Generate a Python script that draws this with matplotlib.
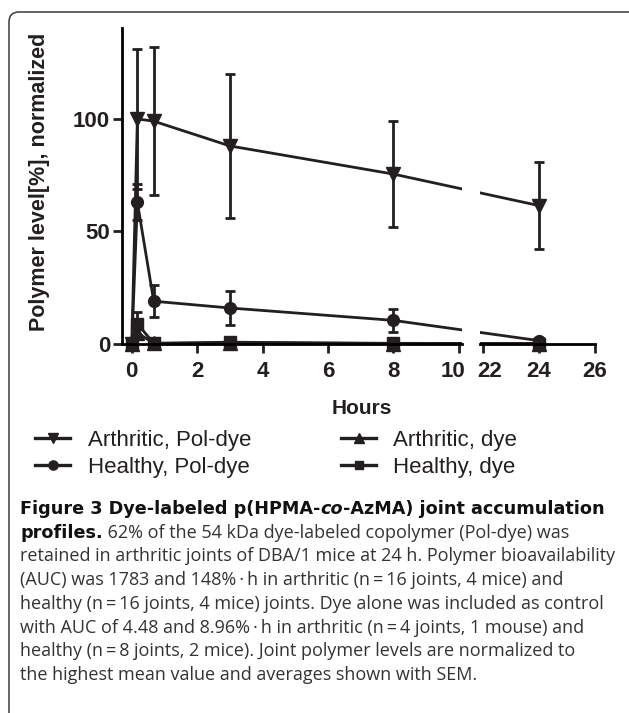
import matplotlib.pyplot as plt
from matplotlib.lines import Line2D
from matplotlib.patches import FancyBboxPatch
from matplotlib.transforms import ScaledTranslation

# time points (h) and normalised polymer levels (% of highest mean) with SEM
hours = [0, 0.17, 0.67, 3, 8, 24]
arth_pol = [0, 100, 99, 88, 75.5, 61.5]
arth_pol_sem = [0, 31, 33, 32, 23.5, 19.5]
healthy_pol = [0, 63, 19, 16, 10.5, 1.5]
healthy_pol_sem = [0, 8, 7, 7.5, 5, 1]
arth_dye = [0, 5, 0.3, 0.5, 0.2, 0.2]
arth_dye_sem = [0, 3, 0.2, 0.3, 0.2, 0.2]
healthy_dye = [0, 9, 0.3, 0.8, 0.3, 0.2]
healthy_dye_sem = [0, 5, 0.3, 0.5, 0.2, 0.2]

labels = ['Arthritic, Pol-dye', 'Healthy, Pol-dye', 'Arthritic, dye', 'Healthy, dye']
markers = ['v', 'o', '^', 's']
left_ticks = [0, 2, 4, 6, 8, 10]
right_ticks = [22, 24, 26]
y_ticks = [0, 50, 100]

W, H = 629, 713
ink = '#231f20'
axis_font = 'Liberation Sans'
reg_font = ['Open Sans', 'DejaVu Sans']
bold_font = ['DejaVu Sans']


def fx(px):
    return px / W


def fy(py):
    return 1 - py / H


fig = plt.figure(figsize=(W / 100, H / 100), dpi=100)
renderer = fig.canvas.get_renderer()

# rounded frame around the whole figure (runs off right and bottom)
frame = FancyBboxPatch((0.09, -0.5), 10, 7.01 + 0.5,
                       boxstyle='round,pad=0,rounding_size=0.1',
                       transform=fig.dpi_scale_trans, fill=False,
                       ec='#3a3a3a', lw=1.1)
fig.add_artist(frame)

ax1 = fig.add_axes([fx(122), fy(362), (462 - 122) / W, (362 - 28) / H])
ax2 = fig.add_axes([fx(480), fy(362), (595 - 480) / W, (362 - 28) / H], sharey=ax1)
ax1.set_xlim(-0.3, 10.1)
ax2.set_xlim(21.9, 26)


def to_other(x, src, dst):
    # same screen position, expressed in the other panel's data units
    disp = src.transData.transform((x, 0))
    return dst.transData.inverted().transform(disp)[0]


# each panel gets every point; ones from the other panel are placed where the
# continuous line would run, so the connecting segment is cut at the break
xs1 = [h if h <= 10.1 else to_other(h, ax2, ax1) for h in hours]
xs2 = [h if h >= 21.9 else to_other(h, ax1, ax2) for h in hours]

series = [(arth_pol, arth_pol_sem), (healthy_pol, healthy_pol_sem),
          (arth_dye, arth_dye_sem), (healthy_dye, healthy_dye_sem)]
ms = [9.5, 8.5, 9.5, 8]

for ax, xs in ((ax1, xs1), (ax2, xs2)):
    for (vals, sem), m, s in zip(series, markers, ms):
        ax.errorbar(xs, vals, yerr=sem, color=ink, marker=m, ms=s,
                    lw=2.0, elinewidth=2.0, capsize=3.6, capthick=2.0)
    ax.set_ylim(-8, 140.4)
    ax.spines['top'].set_visible(False)
    ax.spines['right'].set_visible(False)
    ax.spines['bottom'].set_position(('data', 0))
    ax.spines['bottom'].set_linewidth(2.0)
    ax.spines['left'].set_linewidth(2.0)
    ax.tick_params(width=2.0, length=6.5, color=ink, labelcolor=ink,
                   labelsize=16)
    ax.tick_params(axis='x', pad=6)
    ax.tick_params(axis='y', pad=2)
    ax.patch.set_visible(False)

ax1.set_xticks(left_ticks)
ax1.set_yticks(y_ticks)
ax1.spines['left'].set_bounds(0, 140.4)
ax2.set_xticks(right_ticks)
ax2.spines['left'].set_visible(False)
ax2.tick_params(axis='y', left=False, labelleft=False)

for ax in (ax1, ax2):
    for t in ax.get_xticklabels() + ax.get_yticklabels():
        t.set_fontweight('bold')
        t.set_family(axis_font)

# pull "10" and "22" apart at the break
lab10 = ax1.get_xticklabels()[-1]
lab10.set_transform(lab10.get_transform() + ScaledTranslation(-6 / 100, 0, fig.dpi_scale_trans))
lab22 = ax2.get_xticklabels()[0]
lab22.set_transform(lab22.get_transform() + ScaledTranslation(7 / 100, 0, fig.dpi_scale_trans))

fig.text(fx(40), fy(182), 'Polymer level[%], normalized', rotation=90,
         ha='center', va='center', fontsize=15.5, fontweight='bold',
         family=axis_font, color=ink)
fig.text(fx(362), fy(409), 'Hours', ha='center', va='center', fontsize=15,
         fontweight='bold', family=axis_font, color=ink)

# legend, two columns
leg_cols = [(35, 88), (341, 393)]
leg_rows = [438, 465]
for i, (lab, m, s) in enumerate(zip(labels, markers, ms)):
    (hx, tx), yc = leg_cols[i // 2], leg_rows[i % 2]
    fig.add_artist(Line2D([fx(hx), fx(hx + 35)], [fy(yc), fy(yc)], color=ink,
                          lw=2.4, transform=fig.transFigure))
    fig.add_artist(Line2D([fx(hx + 17.5)], [fy(yc)], color=ink, marker=m,
                          ms=s * 0.78, lw=0, transform=fig.transFigure))
    fig.text(fx(tx), fy(yc + 8), lab, fontsize=16, family=axis_font,
             color=ink, va='baseline')

# caption, drawn run by run so bold / italic pieces sit on one line
caption = [
    [('Figure 3 Dye-labeled p(HPMA-', 'bold', 'normal'), ('co', 'bold', 'italic'),
     ('-AzMA) joint accumulation', 'bold', 'normal')],
    [('profiles.', 'bold', 'normal'),
     (' 62% of the 54 kDa dye-labeled copolymer (Pol-dye) was', 'normal', 'normal')],
    [('retained in arthritic joints of DBA/1 mice at 24 h. Polymer bioavailability', 'normal', 'normal')],
    [('(AUC) was 1783 and 148%\u2009\u00b7\u2009h in arthritic (n\u2009=\u200916 joints, 4 mice) and', 'normal', 'normal')],
    [('healthy (n\u2009=\u200916 joints, 4 mice) joints. Dye alone was included as control', 'normal', 'normal')],
    [('with AUC of 4.48 and 8.96%\u2009\u00b7\u2009h in arthritic (n\u2009=\u20094 joints, 1 mouse) and', 'normal', 'normal')],
    [('healthy (n\u2009=\u20098 joints, 2 mice). Joint polymer levels are normalized to', 'normal', 'normal')],
    [('the highest mean value and averages shown with SEM.', 'normal', 'normal')],
]


def run_width(s, weight, style, size):
    fam = bold_font if weight == 'bold' else reg_font
    t = fig.text(0, 0, s, fontsize=size, fontweight=weight, fontstyle=style,
                 family=fam)
    w = t.get_window_extent(renderer).width
    t.remove()
    return w


# font sizes chosen so the widest lines fill the box like the reference
reg_size = 12 * 594 / run_width(caption[2][0][0], 'normal', 'normal', 12)
bold_size = 12 * 580 / sum(run_width(s, w, st, 12) for s, w, st in caption[0])

baseline = 514
for line in caption:
    x = fx(20)
    for s, weight, style in line:
        bold = weight == 'bold'
        t = fig.text(x, fy(baseline), s, fontsize=bold_size if bold else reg_size,
                     fontweight=weight, fontstyle=style,
                     family=bold_font if bold else reg_font,
                     color='#111111' if bold else '#333333', va='baseline')
        x += t.get_window_extent(renderer).width / fig.bbox.width
    baseline += 23.7

fig.savefig('out.png', dpi=100)
